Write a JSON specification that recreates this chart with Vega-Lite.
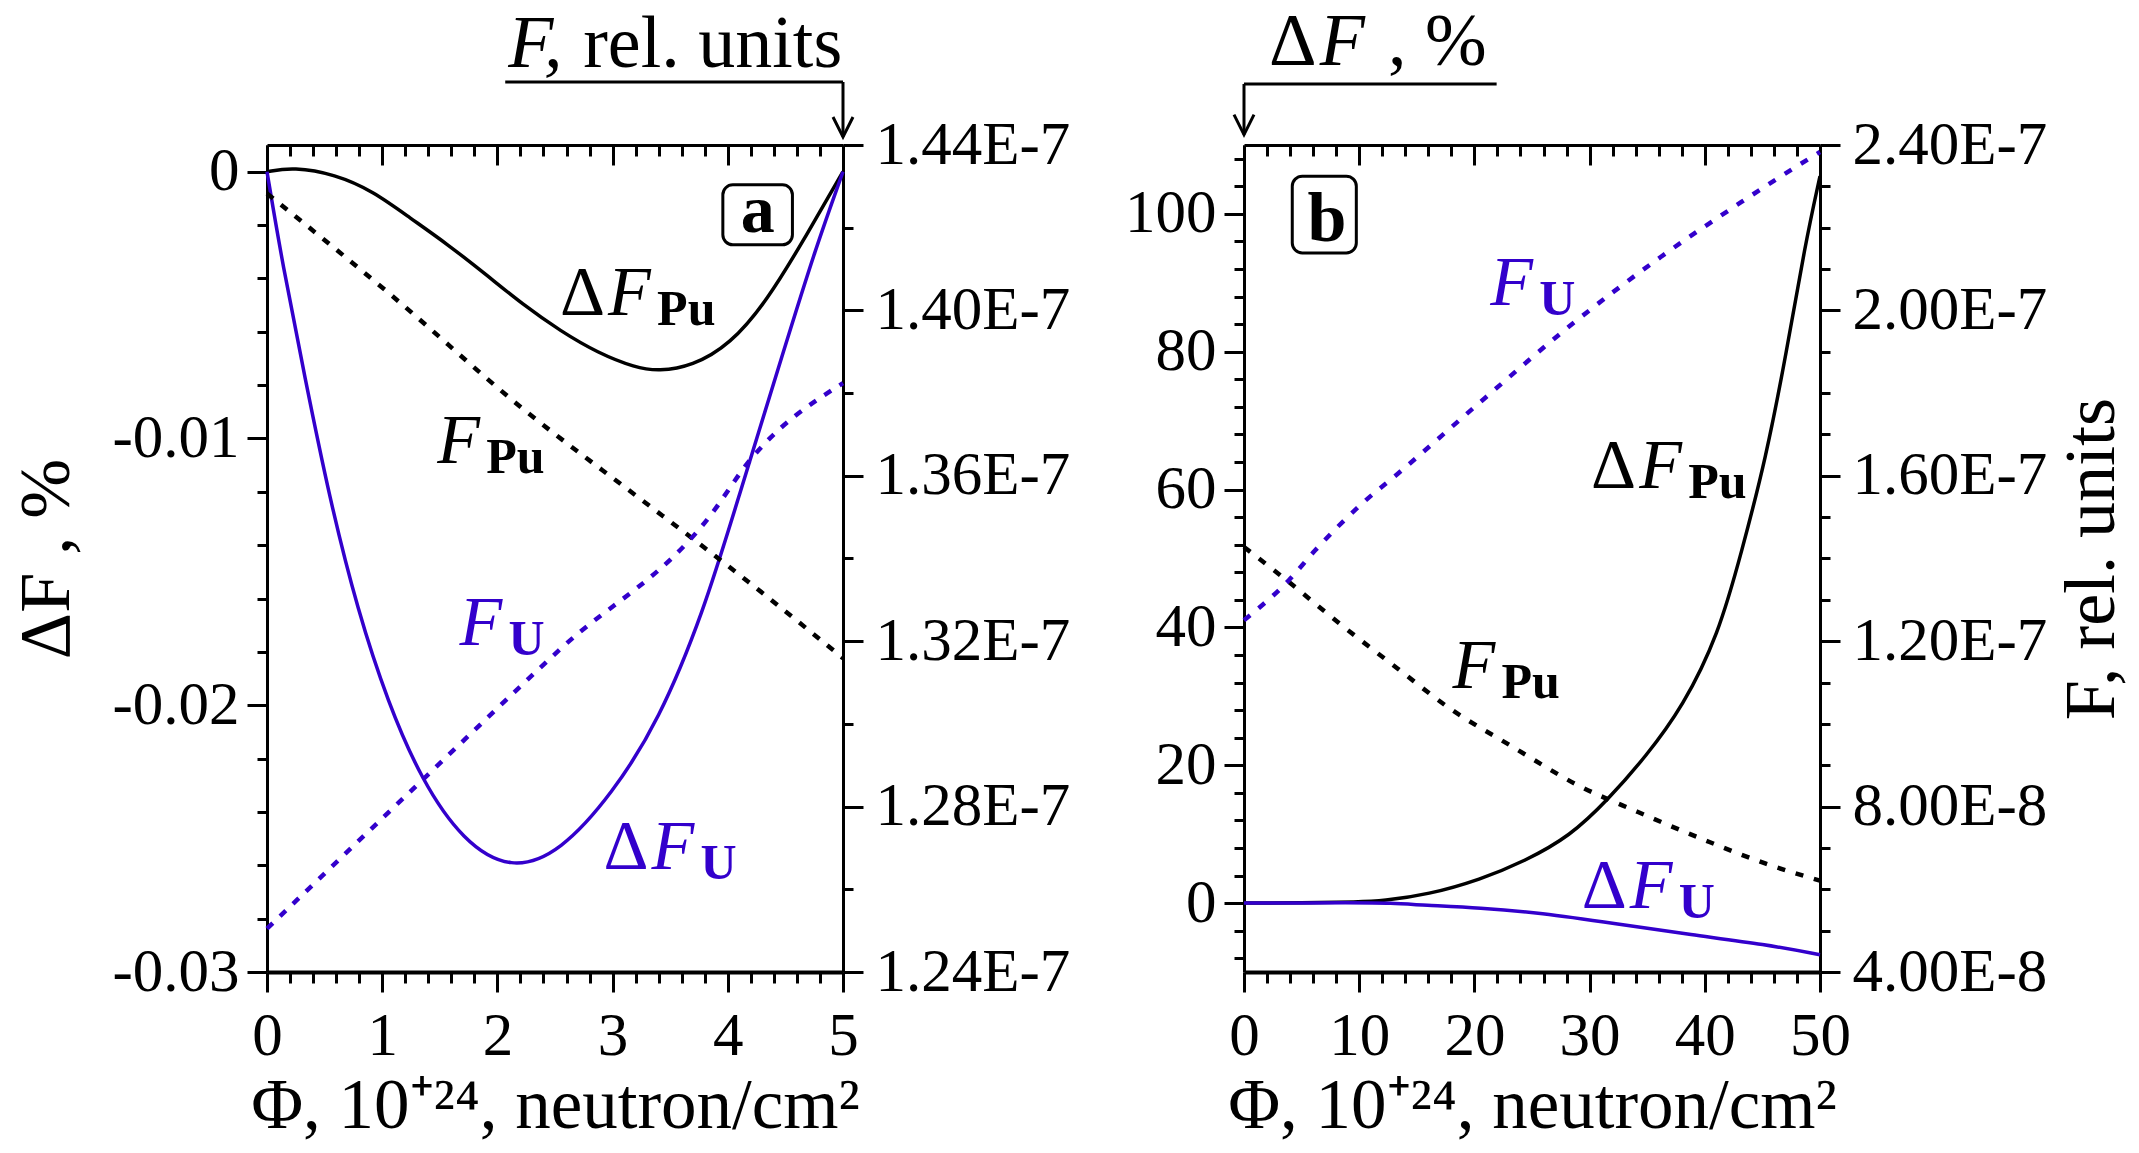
{
  "$schema": "https://vega.github.io/schema/vega-lite/v6.json",
  "background": "white",
  "padding": {"left": 10, "top": 5, "right": 5, "bottom": 0},
  "spacing": 54,
  "config": {
    "font": "Liberation Serif",
    "view": {"stroke": null},
    "axis": {
      "labelFont": "Liberation Serif", "titleFont": "Liberation Serif",
      "labelFontSize": 61, "titleFontSize": 72, "titleFontWeight": "normal",
      "labelColor": "black", "titleColor": "black", "tickColor": "black", "domainColor": "black",
      "grid": false, "tickWidth": 3, "domainWidth": 3, "labelLimit": 0,
      "labelFlush": false, "labelOverlap": false, "labelBound": false
    },
    "text": {"font": "Liberation Serif"}
  },
  "datasets": {
    "a_dF": [
      {"phi": 0, "dF": 0, "series": "Pu"}, {"phi": 0.23, "dF": 0.00017, "series": "Pu"},
      {"phi": 0.59, "dF": -0.0001, "series": "Pu"}, {"phi": 0.92, "dF": -0.00073, "series": "Pu"},
      {"phi": 1.24, "dF": -0.00173, "series": "Pu"}, {"phi": 1.57, "dF": -0.00273, "series": "Pu"},
      {"phi": 1.9, "dF": -0.00385, "series": "Pu"}, {"phi": 2.22, "dF": -0.00498, "series": "Pu"},
      {"phi": 2.55, "dF": -0.00598, "series": "Pu"}, {"phi": 2.87, "dF": -0.00679, "series": "Pu"},
      {"phi": 3.2, "dF": -0.00735, "series": "Pu"}, {"phi": 3.4, "dF": -0.00748, "series": "Pu"},
      {"phi": 3.69, "dF": -0.00729, "series": "Pu"}, {"phi": 4.02, "dF": -0.00648, "series": "Pu"},
      {"phi": 4.34, "dF": -0.00485, "series": "Pu"}, {"phi": 4.67, "dF": -0.00248, "series": "Pu"},
      {"phi": 5, "dF": 0, "series": "Pu"},
      {"phi": 0, "dF": 0, "series": "U"}, {"phi": 0.135, "dF": -0.00348, "series": "U"},
      {"phi": 0.33, "dF": -0.00773, "series": "U"}, {"phi": 0.54, "dF": -0.0122, "series": "U"},
      {"phi": 0.79, "dF": -0.0165, "series": "U"}, {"phi": 1.05, "dF": -0.0199, "series": "U"},
      {"phi": 1.34, "dF": -0.0228, "series": "U"}, {"phi": 1.7, "dF": -0.0251, "series": "U"},
      {"phi": 2.12, "dF": -0.0262, "series": "U"}, {"phi": 2.55, "dF": -0.0255, "series": "U"},
      {"phi": 3.0, "dF": -0.0233, "series": "U"}, {"phi": 3.4, "dF": -0.0206, "series": "U"},
      {"phi": 3.79, "dF": -0.0165, "series": "U"}, {"phi": 4.08, "dF": -0.0124, "series": "U"},
      {"phi": 4.5, "dF": -0.0065, "series": "U"}, {"phi": 4.76, "dF": -0.0029, "series": "U"},
      {"phi": 5, "dF": 0, "series": "U"}
    ],
    "a_F": [
      {"phi": 0, "F": 1.4283e-7, "series": "Pu"}, {"phi": 1.08, "F": 1.40365e-7, "series": "Pu"},
      {"phi": 2.22, "F": 1.37623e-7, "series": "Pu"}, {"phi": 3.2, "F": 1.35528e-7, "series": "Pu"},
      {"phi": 3.79, "F": 1.34278e-7, "series": "Pu"}, {"phi": 4.18, "F": 1.33432e-7, "series": "Pu"},
      {"phi": 5, "F": 1.3159e-7, "series": "Pu"},
      {"phi": 0, "F": 1.25047e-7, "series": "U"}, {"phi": 1.24, "F": 1.28353e-7, "series": "U"},
      {"phi": 2.55, "F": 1.31819e-7, "series": "U"}, {"phi": 3.85, "F": 1.35045e-7, "series": "U"},
      {"phi": 4.18, "F": 1.36334e-7, "series": "U"}, {"phi": 5, "F": 1.3824e-7, "series": "U"}
    ],
    "a_lab": [
      {"phi": 2.961, "dF": -0.00537, "delta": "Δ", "name": "F", "sub": "Pu", "series": "Pu"},
      {"phi": 1.477, "dF": -0.01093, "delta": "", "name": "F", "sub": "Pu", "series": "Pu"},
      {"phi": 1.671, "dF": -0.01775, "delta": "", "name": "F", "sub": "U", "series": "U"},
      {"phi": 3.337, "dF": -0.02613, "delta": "Δ", "name": "F", "sub": "U", "series": "U"}
    ],
    "a_box": [{"x1": 3.957, "x2": 4.561, "y1": -0.000491, "y2": -0.002742, "tx": 4.259, "ty": -0.002243, "tag": "a"}],
    "a_top": [{"phi": 2.094, "F": 1.45886e-7, "sym": "F,", "unit": "rel. units"}],
    "a_arrow": [
      {"x1": 2.068, "y1": 1.45524e-7, "x2": 5, "y2": 1.45524e-7},
      {"x1": 5, "y1": 1.45524e-7, "x2": 5, "y2": 1.44193e-7}
    ],
    "a_tip": [{"phi": 5, "F": 1.44193e-7}],
    "b_dF": [
      {"phi": 0, "dF": 0, "series": "Pu"}, {"phi": 5, "dF": 0.02, "series": "Pu"},
      {"phi": 10, "dF": 0.15, "series": "Pu"}, {"phi": 12, "dF": 0.3, "series": "Pu"},
      {"phi": 16, "dF": 1.24, "series": "Pu"}, {"phi": 20.5, "dF": 3.4, "series": "Pu"},
      {"phi": 24.4, "dF": 6.1, "series": "Pu"}, {"phi": 28.3, "dF": 9.7, "series": "Pu"},
      {"phi": 31.6, "dF": 15.0, "series": "Pu"}, {"phi": 34.9, "dF": 21.3, "series": "Pu"},
      {"phi": 38.1, "dF": 28.5, "series": "Pu"}, {"phi": 41.2, "dF": 39, "series": "Pu"},
      {"phi": 43.2, "dF": 51, "series": "Pu"}, {"phi": 45.3, "dF": 64.5, "series": "Pu"},
      {"phi": 47.1, "dF": 80, "series": "Pu"}, {"phi": 48.7, "dF": 95.5, "series": "Pu"},
      {"phi": 50, "dF": 105.5, "series": "Pu"},
      {"phi": 0, "dF": 0, "series": "U"}, {"phi": 10, "dF": 0.05, "series": "U"},
      {"phi": 12.7, "dF": 0, "series": "U"}, {"phi": 15.6, "dF": -0.3, "series": "U"},
      {"phi": 20.5, "dF": -0.7, "series": "U"}, {"phi": 25.7, "dF": -1.4, "series": "U"},
      {"phi": 32.3, "dF": -3.0, "series": "U"}, {"phi": 38.8, "dF": -4.6, "series": "U"},
      {"phi": 45.3, "dF": -6.0, "series": "U"}, {"phi": 50, "dF": -7.5, "series": "U"}
    ],
    "b_F": [
      {"phi": 0, "F": 1.4278e-7, "series": "Pu"}, {"phi": 3.89, "F": 1.3432e-7, "series": "Pu"},
      {"phi": 8.13, "F": 1.2464e-7, "series": "Pu"}, {"phi": 13.35, "F": 1.1335e-7, "series": "Pu"},
      {"phi": 17.9, "F": 1.0367e-7, "series": "Pu"}, {"phi": 23.1, "F": 9.482e-8, "series": "Pu"},
      {"phi": 29.0, "F": 8.515e-8, "series": "Pu"}, {"phi": 34.2, "F": 7.869e-8, "series": "Pu"},
      {"phi": 40.4, "F": 7.144e-8, "series": "Pu"}, {"phi": 45.3, "F": 6.619e-8, "series": "Pu"},
      {"phi": 50, "F": 6.21e-8, "series": "Pu"},
      {"phi": 0, "F": 1.2505e-7, "series": "U"}, {"phi": 3.89, "F": 1.3473e-7, "series": "U"},
      {"phi": 6.18, "F": 1.4198e-7, "series": "U"}, {"phi": 10.4, "F": 1.5366e-7, "series": "U"},
      {"phi": 13.35, "F": 1.6051e-7, "series": "U"}, {"phi": 20.85, "F": 1.7865e-7, "series": "U"},
      {"phi": 28.35, "F": 1.964e-7, "series": "U"}, {"phi": 36.17, "F": 2.1291e-7, "series": "U"},
      {"phi": 43.18, "F": 2.2622e-7, "series": "U"}, {"phi": 49.05, "F": 2.3669e-7, "series": "U"},
      {"phi": 50, "F": 2.383e-7, "series": "U"}
    ],
    "b_lab": [
      {"phi": 21.37, "dF": 86.84, "delta": "", "name": "F", "sub": "U", "series": "U"},
      {"phi": 34.3, "dF": 60.24, "delta": "Δ", "name": "F", "sub": "Pu", "series": "Pu"},
      {"phi": 18.1, "dF": 31.22, "delta": "", "name": "F", "sub": "Pu", "series": "Pu"},
      {"phi": 33.48, "dF": -0.7, "delta": "Δ", "name": "F", "sub": "U", "series": "U"}
    ],
    "b_box": [{"x1": 4.19, "x2": 9.75, "y1": 105.47, "y2": 94.34, "tx": 7.21, "ty": 96.04, "tag": "b"}],
    "b_top": [{"phi": 6.57, "dF": 121.66, "ux": 12.5, "d": "Δ", "sym": "F", "unit": ", %"}],
    "b_arrow": [
      {"x1": 0, "y1": 118.86, "x2": 21.93, "y2": 118.86},
      {"x1": 0, "y1": 118.86, "x2": 0, "y2": 111.51}
    ],
    "b_tip": [{"phi": 0, "dF": 111.51}]
  },
  "hconcat": [
    {
      "width": 576, "height": 827,
      "resolve": {"scale": {"x": "independent", "y": "independent"}},
      "layer": [
        {
          "layer": [
            {
              "data": {"name": "a_dF"},
              "mark": {"type": "line", "strokeWidth": 3.5, "interpolate": "basis"},
              "encoding": {
                "x": {"field": "phi", "type": "quantitative", "scale": {"domain": [0, 5], "nice": false, "zero": false},
                  "axis": {"orient": "bottom", "values": [0, 1, 2, 3, 4, 5], "tickSize": 20, "labelPadding": 14, "format": "d", "domainWidth": 4,
                    "title": "Φ, 10⁺²⁴, neutron/cm²", "titlePadding": 5, "titleFontSize": 71}},
                "y": {"field": "dF", "type": "quantitative", "scale": {"domain": [-0.03, 0.001], "nice": false, "zero": false},
                  "axis": {"orient": "left", "values": [-0.03, -0.02, -0.01, 0], "tickSize": 20, "labelPadding": 8,
                    "labelExpr": "datum.value == 0 ? '0' : '-' + format(abs(datum.value), '.2f')",
                    "title": "ΔF , %", "titlePadding": 28}},
                "color": {"field": "series", "type": "nominal", "scale": {"domain": ["Pu", "U"], "range": ["#000000", "#3300cc"]}, "legend": null}
              }
            },
            {
              "data": {"name": "a_lab"},
              "mark": {"type": "text", "align": "right", "baseline": "alphabetic", "dx": -3, "fontSize": 70},
              "encoding": {
                "x": {"field": "phi", "type": "quantitative"}, "y": {"field": "dF", "type": "quantitative"},
                "text": {"field": "delta"}, "color": {"field": "series", "type": "nominal", "legend": null}
              }
            },
            {
              "data": {"name": "a_lab"},
              "mark": {"type": "text", "align": "left", "baseline": "alphabetic", "fontSize": 70, "fontStyle": "italic"},
              "encoding": {
                "x": {"field": "phi", "type": "quantitative"}, "y": {"field": "dF", "type": "quantitative"},
                "text": {"field": "name"}, "color": {"field": "series", "type": "nominal", "legend": null}
              }
            },
            {
              "data": {"name": "a_lab"},
              "mark": {"type": "text", "align": "left", "baseline": "alphabetic", "fontSize": 50, "fontWeight": "bold", "dx": 49, "dy": 10},
              "encoding": {
                "x": {"field": "phi", "type": "quantitative"}, "y": {"field": "dF", "type": "quantitative"},
                "text": {"field": "sub"}, "color": {"field": "series", "type": "nominal", "legend": null}
              }
            },
            {
              "data": {"name": "a_box"},
              "mark": {"type": "rect", "fill": "white", "stroke": "black", "strokeWidth": 3, "cornerRadius": 10},
              "encoding": {
                "x": {"field": "x1", "type": "quantitative"}, "x2": {"field": "x2"},
                "y": {"field": "y1", "type": "quantitative"}, "y2": {"field": "y2"}
              }
            },
            {
              "data": {"name": "a_box"},
              "mark": {"type": "text", "align": "center", "baseline": "alphabetic", "fontSize": 68, "fontWeight": "bold", "color": "black"},
              "encoding": {
                "x": {"field": "tx", "type": "quantitative"}, "y": {"field": "ty", "type": "quantitative"},
                "text": {"field": "tag"}
              }
            }
          ]
        },
        {
          "layer": [
            {
              "data": {"name": "a_F"},
              "mark": {"type": "line", "strokeWidth": 4.5, "strokeDash": [8, 10], "interpolate": "monotone"},
              "encoding": {
                "x": {"field": "phi", "type": "quantitative", "scale": {"domain": [0, 5], "nice": false, "zero": false},
                  "axis": {"orient": "top", "values": [0, 1, 2, 3, 4, 5], "tickSize": -20, "labels": false, "title": null}},
                "y": {"field": "F", "type": "quantitative", "scale": {"domain": [1.24e-7, 1.44e-7], "nice": false, "zero": false},
                  "axis": {"orient": "right", "values": [1.24e-7, 1.28e-7, 1.32e-7, 1.36e-7, 1.40e-7, 1.44e-7], "tickSize": 20, "labelPadding": 12,
                    "labelExpr": "upper(format(datum.value, '.2e'))", "title": null}},
                "color": {"field": "series", "type": "nominal", "legend": null}
              }
            },
            {
              "data": {"name": "a_arrow"},
              "mark": {"type": "rule", "strokeWidth": 3, "color": "black"},
              "encoding": {
                "x": {"field": "x1", "type": "quantitative"}, "x2": {"field": "x2"},
                "y": {"field": "y1", "type": "quantitative"}, "y2": {"field": "y2"}
              }
            },
            {
              "data": {"name": "a_tip"},
              "mark": {"type": "point", "shape": "M-0.5,-1L0,0L0.5,-1", "filled": false, "stroke": "black", "strokeWidth": 3, "size": 1600, "opacity": 1},
              "encoding": {"x": {"field": "phi", "type": "quantitative"}, "y": {"field": "F", "type": "quantitative"}}
            },
            {
              "data": {"name": "a_top"},
              "mark": {"type": "text", "align": "left", "baseline": "alphabetic", "fontSize": 74, "fontStyle": "italic", "color": "black"},
              "encoding": {"x": {"field": "phi", "type": "quantitative"}, "y": {"field": "F", "type": "quantitative"}, "text": {"field": "sym"}}
            },
            {
              "data": {"name": "a_top"},
              "mark": {"type": "text", "align": "left", "baseline": "alphabetic", "fontSize": 74, "dx": 75, "color": "black"},
              "encoding": {"x": {"field": "phi", "type": "quantitative"}, "y": {"field": "F", "type": "quantitative"}, "text": {"field": "unit"}}
            }
          ]
        },
        {
          "data": {"name": "a_dF"},
          "mark": {"type": "line", "opacity": 0},
          "encoding": {
            "x": {"field": "phi", "type": "quantitative", "scale": {"domain": [0, 5], "nice": false, "zero": false},
              "axis": {"orient": "bottom", "values": [0.2, 0.4, 0.6, 0.8, 1.2, 1.4, 1.6, 1.8, 2.2, 2.4, 2.6, 2.8, 3.2, 3.4, 3.6, 3.8, 4.2, 4.4, 4.6, 4.8], "tickSize": 11, "labels": false, "domain": false, "title": null}},
            "y": {"field": "dF", "type": "quantitative", "scale": {"domain": [-0.03, 0.001], "nice": false, "zero": false},
              "axis": {"orient": "left", "values": [-0.028, -0.026, -0.024, -0.022, -0.018, -0.016, -0.014, -0.012, -0.008, -0.006, -0.004, -0.002], "tickSize": 10, "labels": false, "domain": false, "title": null}}
          }
        },
        {
          "data": {"name": "a_F"},
          "mark": {"type": "line", "opacity": 0},
          "encoding": {
            "x": {"field": "phi", "type": "quantitative", "scale": {"domain": [0, 5], "nice": false, "zero": false},
              "axis": {"orient": "top", "values": [0.2, 0.4, 0.6, 0.8, 1.2, 1.4, 1.6, 1.8, 2.2, 2.4, 2.6, 2.8, 3.2, 3.4, 3.6, 3.8, 4.2, 4.4, 4.6, 4.8], "tickSize": -11, "labels": false, "domain": false, "title": null}},
            "y": {"field": "F", "type": "quantitative", "scale": {"domain": [1.24e-7, 1.44e-7], "nice": false, "zero": false},
              "axis": {"orient": "right", "values": [1.26e-7, 1.30e-7, 1.34e-7, 1.38e-7, 1.42e-7], "tickSize": 10, "labels": false, "domain": false, "title": null}}
          }
        }
      ]
    },
    {
      "width": 576, "height": 827,
      "resolve": {"scale": {"x": "independent", "y": "independent"}},
      "layer": [
        {
          "layer": [
            {
              "data": {"name": "b_dF"},
              "mark": {"type": "line", "strokeWidth": 3.5, "interpolate": "basis"},
              "encoding": {
                "x": {"field": "phi", "type": "quantitative", "scale": {"domain": [0, 50], "nice": false, "zero": false},
                  "axis": {"orient": "bottom", "values": [0, 10, 20, 30, 40, 50], "tickSize": 20, "labelPadding": 14, "format": "d", "domainWidth": 4,
                    "title": "Φ, 10⁺²⁴, neutron/cm²", "titlePadding": 5, "titleFontSize": 71}},
                "y": {"field": "dF", "type": "quantitative", "scale": {"domain": [-10, 110], "nice": false, "zero": false},
                  "axis": {"orient": "left", "values": [0, 20, 40, 60, 80, 100], "tickSize": 20, "labelPadding": 8, "format": "d", "title": null}},
                "color": {"field": "series", "type": "nominal", "legend": null}
              }
            },
            {
              "data": {"name": "b_lab"},
              "mark": {"type": "text", "align": "right", "baseline": "alphabetic", "dx": -3, "fontSize": 70},
              "encoding": {
                "x": {"field": "phi", "type": "quantitative"}, "y": {"field": "dF", "type": "quantitative"},
                "text": {"field": "delta"}, "color": {"field": "series", "type": "nominal", "legend": null}
              }
            },
            {
              "data": {"name": "b_lab"},
              "mark": {"type": "text", "align": "left", "baseline": "alphabetic", "fontSize": 70, "fontStyle": "italic"},
              "encoding": {
                "x": {"field": "phi", "type": "quantitative"}, "y": {"field": "dF", "type": "quantitative"},
                "text": {"field": "name"}, "color": {"field": "series", "type": "nominal", "legend": null}
              }
            },
            {
              "data": {"name": "b_lab"},
              "mark": {"type": "text", "align": "left", "baseline": "alphabetic", "fontSize": 50, "fontWeight": "bold", "dx": 49, "dy": 10},
              "encoding": {
                "x": {"field": "phi", "type": "quantitative"}, "y": {"field": "dF", "type": "quantitative"},
                "text": {"field": "sub"}, "color": {"field": "series", "type": "nominal", "legend": null}
              }
            },
            {
              "data": {"name": "b_box"},
              "mark": {"type": "rect", "fill": "white", "stroke": "black", "strokeWidth": 3, "cornerRadius": 10},
              "encoding": {
                "x": {"field": "x1", "type": "quantitative"}, "x2": {"field": "x2"},
                "y": {"field": "y1", "type": "quantitative"}, "y2": {"field": "y2"}
              }
            },
            {
              "data": {"name": "b_box"},
              "mark": {"type": "text", "align": "center", "baseline": "alphabetic", "fontSize": 70, "fontWeight": "bold", "color": "black"},
              "encoding": {
                "x": {"field": "tx", "type": "quantitative"}, "y": {"field": "ty", "type": "quantitative"},
                "text": {"field": "tag"}
              }
            },
            {
              "data": {"name": "b_arrow"},
              "mark": {"type": "rule", "strokeWidth": 3, "color": "black"},
              "encoding": {
                "x": {"field": "x1", "type": "quantitative"}, "x2": {"field": "x2"},
                "y": {"field": "y1", "type": "quantitative"}, "y2": {"field": "y2"}
              }
            },
            {
              "data": {"name": "b_tip"},
              "mark": {"type": "point", "shape": "M-0.5,-1L0,0L0.5,-1", "filled": false, "stroke": "black", "strokeWidth": 3, "size": 1600, "opacity": 1},
              "encoding": {"x": {"field": "phi", "type": "quantitative"}, "y": {"field": "dF", "type": "quantitative"}}
            },
            {
              "data": {"name": "b_top"},
              "mark": {"type": "text", "align": "right", "baseline": "alphabetic", "fontSize": 74, "dx": -3, "color": "black"},
              "encoding": {"x": {"field": "phi", "type": "quantitative"}, "y": {"field": "dF", "type": "quantitative"}, "text": {"field": "d"}}
            },
            {
              "data": {"name": "b_top"},
              "mark": {"type": "text", "align": "left", "baseline": "alphabetic", "fontSize": 74, "fontStyle": "italic", "color": "black"},
              "encoding": {"x": {"field": "phi", "type": "quantitative"}, "y": {"field": "dF", "type": "quantitative"}, "text": {"field": "sym"}}
            },
            {
              "data": {"name": "b_top"},
              "mark": {"type": "text", "align": "left", "baseline": "alphabetic", "fontSize": 74, "color": "black"},
              "encoding": {"x": {"field": "ux", "type": "quantitative"}, "y": {"field": "dF", "type": "quantitative"}, "text": {"field": "unit"}}
            }
          ]
        },
        {
          "data": {"name": "b_F"},
          "mark": {"type": "line", "strokeWidth": 4.5, "strokeDash": [8, 11], "interpolate": "monotone"},
          "encoding": {
            "x": {"field": "phi", "type": "quantitative", "scale": {"domain": [0, 50], "nice": false, "zero": false},
              "axis": {"orient": "top", "values": [0, 10, 20, 30, 40, 50], "tickSize": -20, "labels": false, "title": null}},
            "y": {"field": "F", "type": "quantitative", "scale": {"domain": [4e-8, 2.4e-7], "nice": false, "zero": false},
              "axis": {"orient": "right", "values": [4e-8, 8e-8, 1.2e-7, 1.6e-7, 2.0e-7, 2.4e-7], "tickSize": 20, "labelPadding": 12,
                "labelExpr": "upper(format(datum.value, '.2e'))",
                "title": "F, rel. units", "titleAngle": 270, "titleBaseline": "top", "titlePadding": 36}},
            "color": {"field": "series", "type": "nominal", "legend": null}
          }
        },
        {
          "data": {"name": "b_dF"},
          "mark": {"type": "line", "opacity": 0},
          "encoding": {
            "x": {"field": "phi", "type": "quantitative", "scale": {"domain": [0, 50], "nice": false, "zero": false},
              "axis": {"orient": "bottom", "values": [2, 4, 6, 8, 12, 14, 16, 18, 22, 24, 26, 28, 32, 34, 36, 38, 42, 44, 46, 48], "tickSize": 11, "labels": false, "domain": false, "title": null}},
            "y": {"field": "dF", "type": "quantitative", "scale": {"domain": [-10, 110], "nice": false, "zero": false},
              "axis": {"orient": "left", "values": [-8, -4, 4, 8, 12, 16, 24, 28, 32, 36, 44, 48, 52, 56, 64, 68, 72, 76, 84, 88, 92, 96, 104, 108], "tickSize": 10, "labels": false, "domain": false, "title": null}}
          }
        },
        {
          "data": {"name": "b_F"},
          "mark": {"type": "line", "opacity": 0},
          "encoding": {
            "x": {"field": "phi", "type": "quantitative", "scale": {"domain": [0, 50], "nice": false, "zero": false},
              "axis": {"orient": "top", "values": [2, 4, 6, 8, 12, 14, 16, 18, 22, 24, 26, 28, 32, 34, 36, 38, 42, 44, 46, 48], "tickSize": -11, "labels": false, "domain": false, "title": null}},
            "y": {"field": "F", "type": "quantitative", "scale": {"domain": [4e-8, 2.4e-7], "nice": false, "zero": false},
              "axis": {"orient": "right", "values": [5e-8, 6e-8, 7e-8, 9e-8, 1e-7, 1.1e-7, 1.3e-7, 1.4e-7, 1.5e-7, 1.7e-7, 1.8e-7, 1.9e-7, 2.1e-7, 2.2e-7, 2.3e-7], "tickSize": 10, "labels": false, "domain": false, "title": null}}
          }
        }
      ]
    }
  ]
}
